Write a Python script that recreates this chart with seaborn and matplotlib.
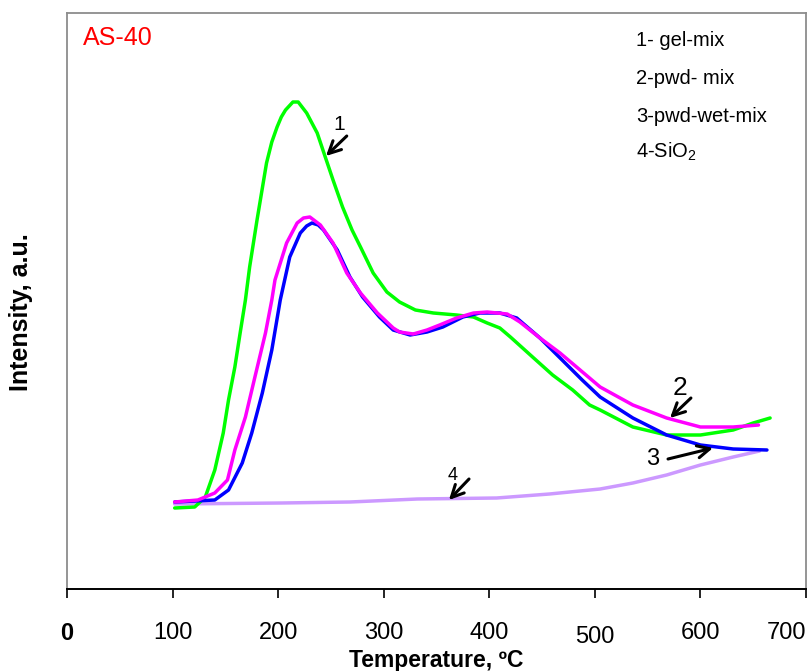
import matplotlib
matplotlib.use("Agg")
import matplotlib.pyplot as plt
import matplotlib.transforms as mtransforms
import seaborn as sns
import pandas as pd

# ---- data ----
gel_T = [102, 121, 131, 140, 148, 153, 159, 164, 169, 173, 180, 189, 194, 199, 203, 207, 214, 219, 227, 237,
         244, 252, 261, 270, 278, 290, 303, 315, 330, 347, 369, 385, 398, 410, 420, 441, 460, 479, 495, 505,
         536, 568, 600, 631, 650, 666]
gel_I = [81, 82, 92, 119, 156, 189, 222, 256, 289, 322, 369, 426, 447, 462, 472, 479, 487, 487, 476, 456,
         434, 409, 382, 359, 342, 316, 297, 287, 279, 276, 274, 272, 266, 261, 252, 232, 214, 199, 184, 179,
         162, 154, 154, 159, 166, 171]

pwd_T = [102, 124, 140, 152, 159, 169, 178, 188, 194, 197, 208, 218, 224, 230, 240, 252, 265, 278, 294, 309,
         315, 328, 341, 353, 369, 385, 398, 417, 429, 448, 467, 486, 505, 536, 568, 600, 631, 655]
pwd_I = [87, 89, 96, 109, 139, 172, 212, 256, 289, 309, 346, 366, 371, 372, 364, 346, 316, 296, 276, 261,
         257, 255, 259, 264, 271, 276, 277, 275, 267, 251, 236, 219, 202, 184, 171, 162, 162, 164]

wet_T = [102, 140, 153, 166, 175, 185, 194, 202, 211, 221, 227, 232, 238, 243, 256, 268, 280, 296, 309, 325,
         341, 356, 375, 391, 410, 426, 448, 469, 488, 505, 536, 568, 600, 631, 663]
wet_I = [87, 89, 99, 126, 156, 196, 239, 289, 332, 356, 363, 366, 364, 359, 339, 312, 292, 272, 259, 254,
         257, 262, 272, 276, 276, 271, 251, 229, 209, 192, 171, 154, 144, 140, 139]

sio2_T = [102, 203, 268, 332, 407, 457, 505, 536, 568, 600, 631, 656]
sio2_I = [85, 86, 87, 90, 91, 95, 100, 106, 114, 124, 132, 138]

x_ticks = [0, 100, 200, 300, 400, 500, 600, 700]
x_ticklabels = ["0", "100", "200", "300", "400", "500", "600", "700"]
legend_lines = ["1- gel-mix", "2-pwd- mix", "3-pwd-wet-mix", "4-SiO$_2$"]
colors = {"gel": "#00FF00", "pwd": "#FF00FF", "wet": "#0000FF", "sio2": "#CC99FF"}

# ---- style ----
sns.set_theme(style="white")
plt.rcParams["font.family"] = ["Liberation Sans", "DejaVu Sans"]
plt.rcParams["mathtext.fontset"] = "custom"
plt.rcParams["mathtext.rm"] = "Liberation Sans"
plt.rcParams["mathtext.default"] = "regular"
plt.rcParams["text.color"] = "black"
plt.rcParams["axes.labelcolor"] = "black"
plt.rcParams["xtick.color"] = "black"

fig = plt.figure(figsize=(8.1, 6.71), dpi=100)
ax = fig.add_axes([67 / 810, 1 - 589 / 671, 739 / 810, 576 / 671])

series = [
    (sio2_T, sio2_I, colors["sio2"]),
    (gel_T, gel_I, colors["gel"]),
    (wet_T, wet_I, colors["wet"]),
    (pwd_T, pwd_I, colors["pwd"]),
]
for T, I, c in series:
    df = pd.DataFrame({"T": T, "I": I})
    sns.lineplot(data=df, x="T", y="I", color=c, linewidth=2.5, sort=False,
                 estimator=None, ax=ax)

ax.set_xlim(0, 700)
ax.set_ylim(0, 576)
ax.set_yticks([])
ax.set_xticks(x_ticks)
ax.set_xticklabels(x_ticklabels, fontsize=17, color="black")
ax.tick_params(axis="x", direction="out", length=6.5, width=1.2, color="black",
               pad=17, bottom=True)
ax.get_xticklabels()[0].set_fontweight("bold")
ax.get_xticklabels()[-1].set_horizontalalignment("right")
lab500 = ax.get_xticklabels()[5]
lab500.set_transform(lab500.get_transform() +
                     mtransforms.ScaledTranslation(0, -3 / 72, fig.dpi_scale_trans))

for side in ["left", "top", "right"]:
    ax.spines[side].set_color("#8c8c8c")
    ax.spines[side].set_linewidth(1.3)
ax.spines["bottom"].set_color("black")
ax.spines["bottom"].set_linewidth(1.4)

ax.set_xlabel("Temperature, ºC", fontsize=16.5, fontweight="bold", labelpad=1, color="black")
ax.set_ylabel("Intensity, a.u.", fontsize=18, fontweight="bold", color="black")
ax.yaxis.set_label_coords(-0.062, 0.48)
ax.yaxis.label.set_verticalalignment("center")

# sample name
ax.text(15, 551, "AS-40", color="red", fontsize=18, ha="left", va="center")

# text legend
leg_y = [549, 511, 472, 437]
for txt, yy in zip(legend_lines, leg_y):
    ax.text(539, yy, txt, fontsize=14.5, ha="left", va="center", color="black")

# curve labels with arrows
arrow_kw = dict(arrowstyle="->", color="black", lw=2.2, mutation_scale=22,
                shrinkA=0, shrinkB=0)
labels = [
    ("1", (257.6, 464), (265, 453), (245.3, 433), 15),
    ("2", (580.7, 201), (591, 191), (571.2, 171), 19),
    ("3", (560.5, 130), (569.3, 130), (611.9, 141), 17),
    ("4", (365.6, 113), (380.8, 110), (361.8, 89), 13),
]
for t, tp, tail, head, fs in labels:
    ha = "right" if t == "3" else "center"
    ax.text(tp[0], tp[1], t, fontsize=fs, ha=ha, va="center", color="black")
    ax.annotate("", xy=head, xytext=tail, arrowprops=arrow_kw)

fig.savefig("out.png", dpi=100)
